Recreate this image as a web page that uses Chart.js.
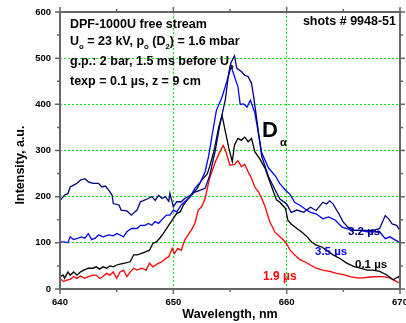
<!DOCTYPE html>
<html>
<head>
<meta charset="utf-8">
<script src="https://cdn.jsdelivr.net/npm/chart.js@4.4.0/dist/chart.umd.min.js"></script>
<style>
  html, body { margin: 0; padding: 0; background: #fff; }
  canvas { display: block; }
</style>
</head>
<body>
<canvas id="chart" width="406" height="323"></canvas>
<script>
// wavelength (nm) and intensity (a.u.), one pair of arrays per delay
const wl32 = [640, 640.4, 640.7, 640.9, 641.2, 641.5, 641.8, 642.2, 642.5, 642.9,
  643.4, 643.7, 644, 644.3, 644.6, 644.7, 645.2, 645.4, 645.9, 646.3,
  646.6, 646.8, 647.1, 647.4, 647.8, 648.1, 648.4, 648.7, 649, 649.3,
  649.6, 649.7, 650, 650.3, 650.7, 651, 651.5, 651.9, 652.4, 652.8,
  653.2, 653.7, 654.1, 654.6, 654.9, 655.1, 655.4, 655.6, 656, 656.3,
  656.6, 656.9, 657.1, 657.4, 657.8, 658.4, 659, 659.4, 660, 660.4,
  660.9, 661.5, 662.1, 662.6, 663.2, 663.5, 663.8, 664.1, 664.6, 665,
  665.4, 665.9, 666.5, 667.1, 667.6, 668.2, 668.7, 669, 669.3, 669.7,
  670];
const int32 = [192, 203, 207, 221, 225, 229, 236, 239, 232, 229,
  229, 221, 223, 214, 203, 185, 182, 171, 169, 160,
  167, 171, 189, 192, 196, 200, 192, 203, 196, 200,
  190, 207, 178, 189, 189, 196, 203, 210, 214, 218,
  245, 300, 355, 412, 470, 491, 505, 478, 471, 463,
  460, 445, 415, 360, 287, 243, 214, 195, 184, 166,
  171, 166, 177, 170, 188, 184, 191, 184, 163, 145,
  134, 127, 127, 127, 127, 131, 159, 152, 141, 138,
  127];

const wl35 = [640, 640.4, 640.7, 640.9, 641.2, 641.6, 641.9, 642.2, 642.5, 642.8,
  643.1, 643.4, 643.8, 644.3, 644.7, 645, 645.3, 645.6, 645.9, 646.3,
  646.8, 647.1, 647.5, 647.8, 648.1, 648.4, 648.7, 649.1, 649.4, 649.7,
  650, 650.3, 650.7, 651, 651.5, 651.9, 652.4, 652.8, 653.1, 653.4,
  653.8, 654.3, 654.7, 655.1, 655.4, 655.7, 655.9, 656.2, 656.5, 656.8,
  657.2, 657.8, 658.4, 659, 659.4, 659.9, 660.3, 660.7, 661.2, 661.6,
  662.1, 662.6, 663.2, 663.7, 664.3, 664.9, 665.3, 665.7, 666.5, 667.1,
  667.6, 668.2, 668.7, 669.1, 669.6, 670];
const int35 = [102, 102, 100, 113, 107, 110, 113, 110, 120, 107,
  110, 117, 113, 117, 115, 120, 117, 113, 124, 131,
  131, 138, 138, 142, 138, 146, 142, 153, 160, 160,
  171, 167, 182, 189, 200, 218, 232, 254, 286, 330,
  387, 416, 448, 482, 460, 438, 400, 401, 394, 409,
  381, 295, 262, 245, 228, 214, 205, 188, 181, 174,
  166, 163, 152, 156, 149, 134, 131, 127, 127, 124,
  124, 124, 109, 113, 106, 100];

const wl01 = [640, 640.3, 640.4, 640.7, 640.9, 641.2, 641.5, 641.8, 642.1, 642.5,
  642.9, 643.2, 643.5, 643.8, 644.1, 644.4, 644.7, 645, 645.3, 645.7,
  646.2, 646.5, 646.8, 647.2, 647.6, 647.9, 648.2, 648.5, 648.8, 649.1,
  649.4, 649.7, 650, 650.3, 650.6, 650.9, 651.2, 651.6, 652.1, 652.5,
  653, 653.2, 653.6, 654, 654.3, 654.6, 654.9, 655.2, 655.4, 655.7,
  656, 656.3, 656.6, 656.9, 657.2, 657.6, 658.1, 658.4, 659.1, 659.4,
  659.9, 660.1, 660.4, 660.9, 661.3, 661.8, 662.2, 662.6, 663.1, 663.5,
  664.1, 664.7, 665.3, 665.9, 666.5, 667.1, 667.6, 668.2, 668.8, 669.4,
  669.9, 670];
const int01 = [27, 30, 23, 37, 30, 37, 30, 37, 41, 45,
  45, 48, 43, 48, 45, 50, 48, 52, 54, 56,
  59, 74, 74, 77, 81, 84, 99, 102, 110, 120,
  131, 142, 153, 164, 167, 182, 192, 203, 218, 236,
  250, 265, 300, 350, 376, 340, 305, 276, 312, 326,
  322, 329, 319, 326, 297, 283, 261, 240, 193, 188,
  174, 149, 141, 131, 124, 113, 102, 95, 91, 84,
  74, 66, 56, 49, 45, 41, 41, 38, 31, 20,
  27, 20];

const wl19 = [640, 640.3, 640.6, 640.9, 641.2, 641.5, 641.8, 642.2, 642.5, 642.9,
  643.2, 643.5, 643.8, 644.1, 644.4, 644.7, 645, 645.3, 645.6, 645.9,
  646.2, 646.5, 646.8, 647.2, 647.6, 647.9, 648.2, 648.7, 649, 649.3,
  649.6, 649.9, 650.1, 650.4, 650.7, 651, 651.3, 651.6, 651.9, 652.2,
  652.5, 652.8, 653.2, 653.7, 654.1, 654.4, 654.6, 655, 655.4, 655.7,
  656, 656.3, 656.6, 656.9, 657.2, 657.5, 657.8, 658.1, 658.5, 659,
  659.4, 659.9, 660.3, 660.7, 661.2, 661.6, 662.1, 662.6, 663.2, 663.8,
  664.4, 665, 665.6, 666.2, 666.8, 667.4, 668, 668.5, 669.1, 669.7,
  670];
const int19 = [23, 16, 19, 21, 27, 23, 28, 23, 27, 30,
  30, 23, 27, 34, 30, 37, 23, 37, 41, 27,
  37, 45, 41, 45, 41, 56, 48, 56, 59, 66,
  70, 88, 77, 88, 84, 106, 117, 128, 142, 171,
  178, 196, 240, 275, 297, 311, 300, 268, 270, 278,
  265, 270, 254, 240, 220, 211, 196, 178, 146, 122,
  113, 102, 84, 74, 63, 59, 52, 45, 41, 38,
  34, 31, 27, 24, 24, 26, 27, 27, 24, 16,
  13];

const xTicks = [640, 650, 660, 670];
const yTicks = [0, 100, 200, 300, 400, 500, 600];
const xMinor = [645, 655, 665];
const yMinor = [50, 150, 250, 350, 450, 550];

const FONT = '"Liberation Sans", Arial, sans-serif';
const GREEN = '#00e600';
const FRAME = '#666666';

function pts(xs, ys) {
  return xs.map((x, i) => ({ x: x, y: ys[i] }));
}

function line(label, xs, ys, color) {
  return {
    label: label,
    data: pts(xs, ys),
    showLine: true,
    borderColor: color,
    borderWidth: 1.3,
    pointRadius: 0,
    fill: false,
  };
}

// text runs: [text, isSubscript]
function drawRuns(ctx, x, y, runs, size, color) {
  ctx.fillStyle = color;
  ctx.textAlign = "left";
  ctx.textBaseline = "alphabetic";
  for (const [txt, sub] of runs) {
    ctx.font = "bold " + (sub ? size * 0.62 : size) + "px " + FONT;
    ctx.fillText(txt, x, y + (sub ? size * 0.3 : 0));
    x += ctx.measureText(txt).width;
  }
}

const framePlugin = {
  id: "frame",
  afterDraw(chart) {
    const { ctx, chartArea: a, scales } = chart;
    ctx.save();
    // ticks, outward on all four sides
    ctx.strokeStyle = FRAME;
    ctx.lineWidth = 1.5;
    ctx.beginPath();
    const xt = (v, len) => {
      const p = scales.x.getPixelForValue(v);
      ctx.moveTo(p, a.bottom); ctx.lineTo(p, a.bottom + len);
      ctx.moveTo(p, a.top); ctx.lineTo(p, a.top - len);
    };
    const yt = (v, len) => {
      const p = scales.y.getPixelForValue(v);
      ctx.moveTo(a.left, p); ctx.lineTo(a.left - len, p);
      ctx.moveTo(a.right, p); ctx.lineTo(a.right + len, p);
    };
    xTicks.forEach(v => xt(v, 5));
    xMinor.forEach(v => xt(v, 3));
    yTicks.forEach(v => yt(v, 5));
    yMinor.forEach(v => yt(v, 3));
    ctx.stroke();
    ctx.lineWidth = 2;
    ctx.strokeRect(a.left, a.top, a.right - a.left, a.bottom - a.top);

    // y axis title, drawn by hand because it sits a little below the centre
    ctx.save();
    ctx.translate(21, 165);
    ctx.rotate(-Math.PI / 2);
    ctx.font = "bold 12.5px " + FONT;
    ctx.fillStyle = "#000";
    ctx.textAlign = "center";
    ctx.textBaseline = "middle";
    ctx.fillText("Intensity, a.u.", 0, 0);
    ctx.restore();

    // annotations
    const s = 12.5;
    drawRuns(ctx, 70, 28, [["DPF-1000U free stream", false]], s, "#000");
    drawRuns(ctx, 70, 45, [["U", false], ["o", true], [" = 23 kV, p", false], ["o", true],
      [" (D", false], ["2", true], [") = 1.6 mbar", false]], s, "#000");
    drawRuns(ctx, 70, 65, [["g.p.: 2 bar, 1.5 ms before U", false], ["o", true]], s, "#000");
    drawRuns(ctx, 70, 85, [["texp = 0.1 \u00b5s, z = 9 cm", false]], s, "#000");

    ctx.font = "bold " + s + "px " + FONT;
    ctx.textAlign = "right";
    ctx.fillStyle = "#000";
    ctx.fillText("shots # 9948-51", 396, 25);

    drawRuns(ctx, 262, 137, [["D", false]], 22, "#000");
    drawRuns(ctx, 280, 146, [["\u03b1", false]], 11, "#000");

    drawRuns(ctx, 348, 235, [["3.2 \u00b5s", false]], 11.5, "#000080");
    drawRuns(ctx, 315, 255, [["3.5 \u00b5s", false]], 11.5, "#0000ff");
    drawRuns(ctx, 355, 268, [["0.1 \u00b5s", false]], 11.5, "#000");
    drawRuns(ctx, 263, 280, [["1.9 \u00b5s", false]], 12, "#ff0000");
    ctx.restore();
  },
};

new Chart(document.getElementById("chart"), {
  type: "scatter",
  data: {
    datasets: [
      line("3.2 \u00b5s", wl32, int32, "#000080"),
      line("3.5 \u00b5s", wl35, int35, "#0000ff"),
      line("0.1 \u00b5s", wl01, int01, "#000000"),
      line("1.9 \u00b5s", wl19, int19, "#ff0000"),
    ],
  },
  options: {
    responsive: false,
    animation: false,
    devicePixelRatio: 1,
    layout: { padding: { top: 12, right: 6, left: 0, bottom: 0 } },
    plugins: { legend: { display: false }, tooltip: { enabled: false } },
    scales: {
      x: {
        type: "linear",
        min: 640,
        max: 670,
        afterBuildTicks: sc => { sc.ticks = xTicks.map(v => ({ value: v })); },
        afterFit: sc => {
          sc.height = 34;
          sc.paddingLeft = 0;
          sc.paddingRight = 0;
        },
        ticks: {
          padding: 8,
          color: "#000",
          maxRotation: 0,
          font: { family: FONT, size: 9.5, weight: "bold" },
        },
        grid: {
          drawTicks: false,
          lineWidth: 1,
          color: c => (c.tick && (c.tick.value === 640 || c.tick.value === 670)) ? "rgba(0,0,0,0)" : GREEN,
        },
        border: { display: false, dash: [2, 2] },
        title: {
          display: true,
          text: "Wavelength, nm",
          color: "#000",
          padding: { top: 0, bottom: 1 },
          font: { family: FONT, size: 12.5, weight: "bold" },
        },
      },
      y: {
        min: 0,
        max: 600,
        afterBuildTicks: sc => { sc.ticks = yTicks.map(v => ({ value: v })); },
        afterFit: sc => {
          sc.width = 60;
          sc.paddingTop = 0;
          sc.paddingBottom = 0;
        },
        ticks: {
          padding: 9,
          color: "#000",
          font: { family: FONT, size: 9.5, weight: "bold" },
        },
        grid: {
          drawTicks: false,
          lineWidth: 1,
          color: c => (c.tick && (c.tick.value === 0 || c.tick.value === 600)) ? "rgba(0,0,0,0)" : GREEN,
        },
        border: { display: false, dash: [2, 2] },
        title: { display: false },
      },
    },
  },
  plugins: [framePlugin],
});
</script>
</body>
</html>
